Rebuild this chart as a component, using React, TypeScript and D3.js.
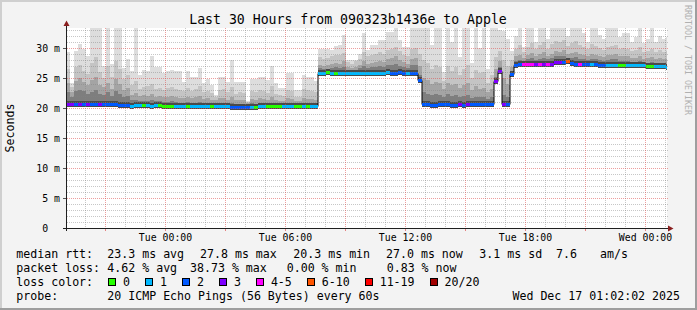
import React from "react";
import * as d3 from "d3";

const FONT = "'DejaVu Sans Mono', monospace";

const chartTitle = "Last 30 Hours from 090323b1436e to Apple";
const yAxisTitle = "Seconds";
const watermark = "RRDTOOL / TOBI OETIKER";
const yTickValues = [0, 5, 10, 15, 20, 25, 30];
const yTickLabels = ["0  ", "5 m", "10 m", "15 m", "20 m", "25 m", "30 m"];
const xLabelTimes = [
  new Date(2025, 11, 16, 0, 0),
  new Date(2025, 11, 16, 6, 0),
  new Date(2025, 11, 16, 12, 0),
  new Date(2025, 11, 16, 18, 0),
  new Date(2025, 11, 17, 0, 0),
];
const rangeStart = new Date(2025, 11, 15, 19, 2, 2);
const rangeEnd = new Date(2025, 11, 17, 1, 2, 2);
const firstBucket = new Date(2025, 11, 15, 19, 0, 0);
const bucketMinutes = 12;

// median RTT per 12-minute bucket (ms)
const medianMs = [
  20.7, 20.6, 20.6, 20.7, 20.6, 20.6, 20.6, 20.7, 20.6, 20.6, 20.6, 20.6, 20.6,
  20.5, 20.5, 20.5, 20.4, 20.5, 20.5, 20.5, 20.5, 20.4, 20.5, 20.5, 20.4,
  20.4, 20.4, 20.4, 20.4, 20.4, 20.4, 20.4, 20.4, 20.4, 20.4, 20.4, 20.4, 20.4, 20.4, 20.3, 20.3,
  20.2, 20.2, 20.2, 20.2, 20.2, 20.2, 20.2,
  20.3, 20.3, 20.3, 20.3, 20.3, 20.3, 20.3, 20.3, 20.3, 20.3, 20.3, 20.3, 20.3, 20.3, 20.3,
  25.9, 25.9, 26.0, 25.9, 25.9, 25.9, 25.9, 25.8, 25.8, 25.9, 25.9, 25.9, 25.9, 25.9, 25.9, 25.9, 25.9, 26.0, 25.9, 25.9, 26.0, 25.9, 25.9, 25.9, 25.9,
  24.7,
  20.6, 20.6, 20.5, 20.5, 20.6, 20.6, 20.6, 20.5, 20.5, 20.6, 20.5, 20.6, 20.6, 20.6, 20.6, 20.6, 20.6, 20.7,
  24.5, 26.2, 20.6, 20.6, 25.7, 27.2,
  27.4, 27.4, 27.4, 27.3, 27.3, 27.3, 27.3, 27.4, 27.4, 27.6, 27.7,
  27.6, 27.8, 27.5,
  27.4, 27.4, 27.3, 27.3, 27.3, 27.3, 27.2, 27.2, 27.2, 27.2, 27.2, 27.1, 27.1, 27.1, 27.1, 27.1, 27.1, 27.1, 27.0, 27.0, 27.0, 27.0, 27.0, 26.9,
];

// lost pings (of 20) per bucket
const lostPings = [
  3, 3, 2, 3, 2, 3, 2, 2, 3, 2, 2, 2, 2, 2, 2, 2,
  1, 1, 1, 0, 1, 1, 1, 0, 0, 0, 0, 1, 1, 1, 0, 1, 1, 1, 1, 1, 0, 1, 1, 1, 1, 2, 2, 2, 2, 2, 1, 0, 1, 1, 0, 0, 0, 0, 1, 1, 1, 0, 0, 1, 0, 1, 1,
  1, 1, 0, 1, 0, 1, 1, 1, 1, 1, 1, 1, 1, 1, 1, 1, 1, 1, 2, 2, 2, 2, 1, 2, 2,
  2,
  2, 2, 2, 2, 2, 2, 2, 2, 2, 3, 2, 3, 2, 2, 2, 2, 2, 2,
  3, 3, 3, 2, 2, 2,
  2, 4, 4, 4, 3, 4, 3, 4, 3, 3, 3, 2, 6, 2, 2, 4, 2, 2, 1, 2, 2, 2, 1, 1, 1, 0, 0, 1, 1, 1, 1, 1, 0, 0, 1, 1, 1, 1,
];

// smoke: max ping (lightest layer)
const smokeMax = [
  29.3, 24.2, 29.5, 30.7, 29.8, 28.7, 33.3, 33.3, 33.3, 27.0, 33.3, 27.4, 33.3, 33.3, 26.6, 28.1, 26.1, 33.3, 25.5, 26.4, 26.1, 28.7, 26.9, 26.9, 25.8, 26.1, 26.4, 26.2, 26.2,
  24.4, 26.1, 25.2, 25.2, 26.6, 24.1, 24.9, 23.8, 22.2, 25.2, 25.2, 24.4, 28.0, 24.4, 24.4, 24.4, 21.1, 24.8, 24.8, 25.2, 25.2, 24.7, 27.0, 24.1, 23.4, 23.4, 25.8, 25.8, 23.0, 23.0, 25.5, 25.2, 25.2, 24.5,
  29.9, 29.9, 29.9, 29.6, 30.3, 30.5, 32.2, 28.0, 28.0, 28.0, 29.0, 32.5, 29.6, 30.5, 30.5, 31.3, 31.3, 32.6, 32.6, 33.3, 31.3, 30.2, 30.2, 33.3, 33.3,
  33.3,
  33.3, 33.3, 30.5, 33.3, 33.3, 26.0, 33.3, 31.0, 33.3, 28.5, 33.3, 33.3, 27.5, 33.3, 30.0, 33.3, 26.5, 33.3,
  33.3, 33.0, 32.8, 31.5, 29.5, 32.0,
  33.3, 30.2, 33.3, 33.3, 31.0, 33.3, 33.3, 31.5, 33.3, 33.3, 33.3, 33.3, 32.0, 33.3, 33.3, 33.3, 32.5, 31.0, 33.3, 33.3, 32.2, 31.5, 33.3, 33.3, 33.3, 31.8, 32.5, 32.5, 31.0, 31.8, 33.3, 30.8, 31.5, 33.3, 31.0, 32.0, 31.5, 31.8,
];

// smoke: upper quantile layers (progressively darker)
const smokeQ1 = [
  26.5, 23.5, 26.8, 27.2, 26.2, 25.6, 27.5, 28.5, 26.0, 25.0, 27.0, 25.2, 27.8, 26.5, 24.8, 25.5,
  23.8, 24.5, 23.2, 23.5, 23.6, 24.0, 23.2, 23.4, 23.0, 23.3, 23.5, 23.1, 23.0, 22.8, 23.4, 22.9, 23.2, 23.6, 22.6, 22.9, 22.5, 21.8, 23.0, 23.1, 22.6, 23.5, 22.4, 22.6, 22.5, 21.0, 22.8, 22.6, 23.0, 22.9, 22.5, 23.6, 22.4, 22.2, 22.0, 23.0, 22.8, 21.9, 21.9, 23.2, 23.0, 22.9, 22.6,
  28.5, 28.2, 28.4, 28.6, 28.9, 28.8, 29.2, 27.6, 27.4, 27.8, 28.2, 29.4, 28.6, 28.8, 29.0, 29.3, 29.0, 29.6, 29.8, 30.2, 29.5, 28.8, 28.6, 29.8, 30.0,
  29.0,
  28.0, 27.5, 26.5, 27.2, 26.8, 24.5, 27.0, 26.2, 26.8, 25.5, 26.5, 27.2, 25.0, 26.4, 25.8, 26.0, 24.2, 25.5,
  28.5, 29.5, 28.0, 27.0, 28.0, 29.8,
  30.5, 29.4, 30.2, 30.8, 29.8, 30.5, 31.0, 29.9, 30.6, 31.2, 31.0, 31.4, 30.4, 30.8, 31.2, 30.5, 30.2, 29.8, 30.6, 30.4, 30.0, 29.6, 30.2, 30.4, 30.5, 29.8, 30.0, 29.9, 29.5, 29.6, 30.1, 29.4, 29.5, 29.9, 29.3, 29.6, 29.4, 29.5,
];
const smokeQ2 = [
  24.2, 22.6, 24.5, 25.0, 24.4, 23.8, 24.6, 25.2, 23.8, 23.5, 24.2, 23.2, 24.8, 24.0, 23.0, 23.4,
  22.2, 22.5, 22.0, 22.1, 22.0, 22.3, 21.9, 22.0, 21.8, 21.9, 22.0, 21.8, 21.7, 21.6, 21.9, 21.7, 21.8, 22.0, 21.5, 21.6, 21.4, 21.3, 21.6, 21.7, 21.4, 21.9, 21.3, 21.4, 21.3, 20.8, 21.5, 21.4, 21.6, 21.5, 21.4, 21.8, 21.3, 21.2, 21.1, 21.6, 21.5, 21.1, 21.1, 21.6, 21.5, 21.5, 21.3,
  27.2, 27.0, 27.1, 27.3, 27.5, 27.4, 27.8, 26.8, 26.7, 26.9, 27.2, 27.9, 27.4, 27.5, 27.6, 27.9, 27.7, 28.1, 28.3, 28.6, 28.0, 27.6, 27.4, 28.2, 28.4,
  27.0,
  25.0, 24.6, 24.0, 24.4, 24.1, 23.2, 24.2, 23.8, 24.0, 23.4, 23.8, 24.2, 23.0, 23.6, 23.2, 23.4, 22.6, 23.2,
  26.5, 27.8, 25.0, 24.0, 26.8, 28.6,
  28.8, 28.4, 28.9, 29.2, 28.6, 29.0, 29.3, 28.7, 29.0, 29.5, 29.4, 29.6, 29.0, 29.2, 29.4, 29.0, 28.8, 28.6, 29.0, 28.9, 28.7, 28.5, 28.8, 28.9, 29.0, 28.6, 28.7, 28.6, 28.3, 28.4, 28.7, 28.2, 28.3, 28.5, 28.1, 28.3, 28.2, 28.2,
];
const smokeQ3 = [
  22.6, 21.8, 22.8, 23.0, 22.9, 22.4, 22.7, 23.0, 22.4, 22.2, 22.6, 22.0, 22.8, 22.4, 21.8, 22.0,
  21.3, 21.4, 21.2, 21.2, 21.1, 21.3, 21.1, 21.1, 21.0, 21.0, 21.1, 21.0, 20.9, 20.9, 21.0, 20.9, 20.9, 21.0, 20.8, 20.8, 20.8, 20.7, 20.8, 20.8, 20.6, 20.9, 20.6, 20.6, 20.6, 20.5, 20.8, 20.7, 20.8, 20.8, 20.7, 20.9, 20.7, 20.6, 20.6, 20.8, 20.8, 20.6, 20.6, 20.8, 20.8, 20.8, 20.7,
  26.6, 26.5, 26.5, 26.6, 26.8, 26.7, 26.9, 26.4, 26.3, 26.4, 26.6, 27.0, 26.7, 26.8, 26.8, 27.0, 26.9, 27.1, 27.2, 27.4, 27.0, 26.8, 26.7, 27.1, 27.2,
  25.5,
  22.6, 22.4, 22.2, 22.3, 22.2, 21.8, 22.3, 22.0, 22.1, 21.9, 22.0, 22.2, 21.7, 21.9, 21.8, 21.9, 21.5, 21.8,
  25.2, 26.8, 22.2, 21.8, 26.2, 27.8,
  28.0, 27.9, 28.1, 28.3, 28.0, 28.2, 28.4, 28.1, 28.3, 28.6, 28.6, 28.7, 28.3, 28.4, 28.5, 28.2, 28.1, 28.0, 28.2, 28.1, 28.0, 27.9, 28.0, 28.1, 28.1, 27.9, 27.9, 27.8, 27.6, 27.7, 27.8, 27.5, 27.5, 27.6, 27.4, 27.5, 27.4, 27.4,
];
const smokeLayers = [smokeMax, smokeQ1, smokeQ2, smokeQ3];
const smokeColors = ["#dddddd", "#c4c4c4", "#a4a4a4", "#7e7e7e"];

const lossLabels = ["0", "1", "2", "3", "4-5", "6-10", "11-19", "20/20"];
const lossUpper = [0, 1, 2, 3, 5, 10, 19, 20];
const lossColors = ["#26ff00", "#00b8ff", "#0059ff", "#7e00ff", "#ff00ff", "#ff5500", "#ff0000", "#a10000"];

const rttLegend = ["median rtt:", "23.3 ms avg", "27.8 ms max", "20.3 ms min", "27.0 ms now", "3.1 ms sd", "7.6", "am/s"];
const rttLegendX = [16.3, 107.3, 200, 293.3, 386, 479.3, 556, 600];
const lossLegend = ["packet loss:", "4.62 % avg", "38.73 % max", "0.00 % min", "0.83 % now"];
const lossLegendX = [16.3, 107.3, 190, 286.7, 386.7];
const probeLabel = "probe:";
const probeText = "20 ICMP Echo Pings (56 Bytes) every 60s";
const stampText = "Wed Dec 17 01:02:02 2025";

export default function App() {
  const W = 697, H = 310;
  const plotLeft = 67, plotRight = 667, plotTop = 28, plotBottom = 228;
  const x = d3.scaleTime().domain([rangeStart, rangeEnd]).range([66.2, 666.2]);
  const y = d3.scaleLinear().domain([0, 100 / 3]).range([plotBottom, plotTop]);

  const lossIdx = (n: number) => lossUpper.findIndex((u) => n <= u);

  const buckets = medianMs.map((m, k) => {
    const t0 = d3.timeMinute.offset(firstBucket, k * bucketMinutes);
    const t1 = d3.timeMinute.offset(firstBucket, (k + 1) * bucketMinutes);
    const x0 = Math.max(plotLeft, Math.round(x(t0)));
    const x1 = Math.min(plotRight, Math.round(x(t1)));
    const ym = Math.round(y(m)) + 0.5;
    return { k, x0, x1, ym, m };
  }).filter((b) => b.x1 > b.x0);

  const medPath = buckets
    .map((b, i) => (i === 0 ? `M${b.x0},${b.ym}` : `V${b.ym}`) + `H${b.x1}`)
    .join("");

  const hours = d3.timeHour.range(d3.timeHour.ceil(rangeStart), rangeEnd);
  const minorVals = d3.range(1, 34).filter((v) => v % 5 !== 0);
  const majorVals = yTickValues.filter((v) => v > 0);

  let boxX = 108;
  const lossBoxes = lossLabels.map((lab, i) => {
    const bx = boxX;
    boxX += 30 + 6.97 * lab.length;
    return { lab, bx, color: lossColors[i] };
  });

  const txt = { fontFamily: FONT, whiteSpace: "pre" as const };

  return (
    <svg width={W} height={H} style={{ position: "absolute", left: 0, top: 0, display: "block" }}>
      <rect x={0} y={0} width={W} height={H} fill="#f3f3f3" />
      <rect x={0} y={0} width={W} height={2} fill="#cfcfcf" />
      <rect x={0} y={0} width={2} height={H} fill="#cfcfcf" />
      <rect x={W - 2} y={0} width={2} height={H} fill="#9e9e9e" />
      <rect x={0} y={H - 2} width={W} height={2} fill="#9e9e9e" />

      <rect x={plotLeft} y={plotTop} width={plotRight - plotLeft} height={plotBottom - plotTop} fill="#ffffff" />

      {/* smoke */}
      {smokeLayers.map((layer, j) => (
        <g key={"L" + j} fill={smokeColors[j]}>
          {buckets.map((b) => {
            const top = Math.max(plotTop, Math.round(y(layer[b.k])));
            const bot = b.ym + 2.5;
            return <rect key={b.k} x={b.x0} y={top} width={b.x1 - b.x0} height={Math.max(0, bot - top)} />;
          })}
        </g>
      ))}
      <g fill="#4a4a4a">
        {buckets.map((b) => (
          <rect key={b.k} x={b.x0} y={b.ym - 3.5} width={b.x1 - b.x0} height={6} />
        ))}
      </g>

      {/* median */}
      <path d={medPath} fill="none" stroke="#000000" strokeWidth={1} />
      {buckets.map((b) => (
        <rect key={"m" + b.k} x={b.x0} y={b.ym - 1.5} width={b.x1 - b.x0} height={3} fill={lossColors[lossIdx(lostPings[b.k])]} />
      ))}

      {/* grid */}
      <g strokeDasharray="1,1" strokeWidth={1}>
        {minorVals.map((v) => (
          <line key={"hm" + v} x1={plotLeft} x2={plotRight + 1} y1={Math.round(y(v)) + 0.5} y2={Math.round(y(v)) + 0.5} stroke="rgba(130,130,130,0.45)" />
        ))}
        {hours.filter((h) => h.getHours() % 3 !== 0).map((h) => (
          <line key={"vm" + +h} x1={Math.floor(x(h)) + 0.5} x2={Math.floor(x(h)) + 0.5} y1={plotTop} y2={plotBottom} stroke="rgba(130,130,130,0.45)" />
        ))}
        {majorVals.map((v) => (
          <line key={"hM" + v} x1={plotLeft} x2={plotRight + 1} y1={Math.round(y(v)) + 0.5} y2={Math.round(y(v)) + 0.5} stroke="rgba(222,79,79,0.55)" />
        ))}
        {hours.filter((h) => h.getHours() % 3 === 0).map((h) => (
          <line key={"vM" + +h} x1={Math.floor(x(h)) + 0.5} x2={Math.floor(x(h)) + 0.5} y1={plotTop} y2={plotBottom} stroke="rgba(222,79,79,0.55)" />
        ))}
      </g>

      {/* ticks */}
      {yTickValues.map((v) => (
        <line key={"yt" + v} x1={63} x2={66} y1={Math.round(y(v)) + 0.5} y2={Math.round(y(v)) + 0.5} stroke="#555" />
      ))}
      {hours.filter((h) => h.getHours() % 3 === 0).map((h) => (
        <line key={"xt" + +h} x1={Math.floor(x(h)) + 0.5} x2={Math.floor(x(h)) + 0.5} y1={229} y2={231} stroke="rgba(222,79,79,0.7)" />
      ))}

      {/* axes */}
      <line x1={63} x2={669} y1={228.5} y2={228.5} stroke="#1f1f1f" />
      <line x1={66.5} x2={66.5} y1={231} y2={25} stroke="#1f1f1f" />
      <polygon points="668,225.5 673.5,228.5 668,231.5" fill="#8a1f1f" />
      <polygon points="63.5,26 66.5,20.5 69.5,26" fill="#8a1f1f" />

      {/* y labels */}
      {yTickValues.map((v, i) => (
        <text key={"yl" + v} x={60} y={Math.round(y(v)) + 4} textAnchor="end" fontSize={9.85} style={txt} fill="#000">
          {yTickLabels[i]}
        </text>
      ))}
      {/* x labels */}
      {xLabelTimes.map((t) => (
        <text key={"xl" + +t} x={x(t)} y={241} textAnchor="middle" fontSize={9.85} style={txt} fill="#000">
          {d3.timeFormat("%a %H:%M")(t)}
        </text>
      ))}

      <text x={348} y={24} textAnchor="middle" fontSize={13.2} style={txt} fill="#000">{chartTitle}</text>
      <text transform={`translate(13.5,${(plotTop + plotBottom) / 2}) rotate(-90)`} textAnchor="middle" fontSize={11.6} style={txt} fill="#000">
        {yAxisTitle}
      </text>
      <text transform="translate(684.5,5) rotate(90)" fontSize={8.3} style={txt} fill="#b0b0b0">{watermark}</text>

      {/* legend */}
      {rttLegend.map((s, i) => (
        <text key={"r" + i} x={rttLegendX[i]} y={257.5} fontSize={11.6} style={txt} fill="#000">{s}</text>
      ))}
      {lossLegend.map((s, i) => (
        <text key={"p" + i} x={lossLegendX[i]} y={271.5} fontSize={11.6} style={txt} fill="#000">{s}</text>
      ))}
      <text x={16.3} y={285.5} fontSize={11.6} style={txt} fill="#000">loss color:</text>
      {lossBoxes.map((b) => (
        <g key={"lb" + b.lab}>
          <rect x={Math.round(b.bx) + 0.5} y={278.5} width={7} height={7} fill={b.color} stroke="#000" strokeWidth={1} />
          <text x={b.bx + 15} y={285.5} fontSize={11.6} style={txt} fill="#000">{b.lab}</text>
        </g>
      ))}
      <text x={16.3} y={299.5} fontSize={11.6} style={txt} fill="#000">{probeLabel}</text>
      <text x={107.3} y={299.5} fontSize={11.6} style={txt} fill="#000">{probeText}</text>
      <text x={680} y={299.5} textAnchor="end" fontSize={11.6} style={txt} fill="#000">{stampText}</text>
    </svg>
  );
}
